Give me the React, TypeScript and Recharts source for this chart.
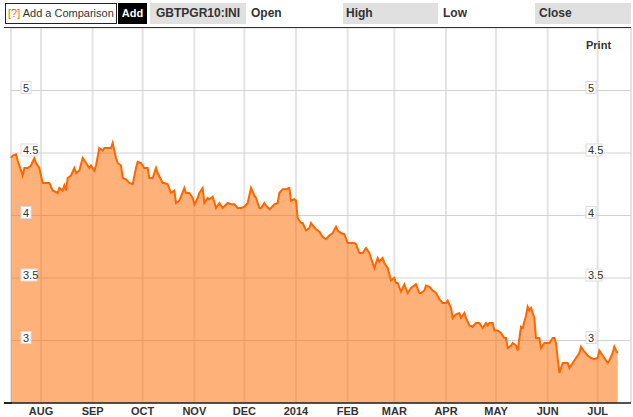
import { Area, AreaChart, CartesianGrid, XAxis, YAxis } from "recharts"

// day offsets counted from 1 Jul 2013
const days = [
    13, 14, 16, 17, 18, 20, 21, 23, 25, 27, 28, 30, 32, 34, 36, 38, 41, 42, 44, 45,
    46, 47, 49, 51, 52, 54, 56, 58, 60, 61, 63, 64, 66, 68, 69, 71, 73, 74, 76, 77,
    79, 80, 82, 84, 86, 88, 89, 91, 93, 95, 96, 98, 100, 101, 104, 105, 107, 109, 111, 112,
    114, 117, 118, 120, 122, 123, 125, 126, 128, 129, 131, 132, 134, 136, 138, 140, 143, 145, 147, 149,
    151, 153, 155, 157, 159, 160, 162, 163, 165, 166, 168, 169, 171, 173, 174, 176, 178, 180, 181, 183,
    184, 185, 187, 188, 190, 192, 193, 194, 196, 198, 200, 202, 204, 206, 208, 209, 211, 213, 215, 217,
    219, 220, 222, 224, 226, 228, 229, 231, 233, 234, 236, 237, 239, 241, 243, 244, 245, 247, 249, 251,
    253, 256, 258, 259, 261, 262, 264, 266, 268, 270, 272, 274, 275, 277, 278, 280, 282, 283, 285, 286,
    288, 290, 292, 294, 296, 298, 299, 300, 302, 303, 305, 307, 309, 310, 311, 313, 314, 316, 317, 319,
    320, 322, 323, 324, 325, 327, 328, 330, 331, 333, 335, 336, 338, 339, 340, 341, 342, 344, 346, 347,
    348, 350, 352, 354, 355, 357, 359, 361, 363, 365, 366, 368, 369, 371, 372, 374, 375, 376, 377,
]

const yields = [
    4.46, 4.48, 4.49, 4.44, 4.4, 4.32, 4.38, 4.38, 4.4, 4.46, 4.42, 4.38, 4.26, 4.26, 4.26, 4.2, 4.18, 4.22, 4.2, 4.24,
    4.2, 4.3, 4.32, 4.38, 4.34, 4.36, 4.46, 4.42, 4.38, 4.4, 4.36, 4.4, 4.54, 4.52, 4.54, 4.54, 4.54, 4.58, 4.46, 4.42,
    4.4, 4.3, 4.29, 4.26, 4.25, 4.38, 4.43, 4.42, 4.38, 4.38, 4.3, 4.3, 4.38, 4.34, 4.26, 4.26, 4.25, 4.18, 4.2, 4.1,
    4.12, 4.22, 4.18, 4.18, 4.14, 4.09, 4.14, 4.18, 4.22, 4.1, 4.14, 4.13, 4.15, 4.06, 4.1, 4.06, 4.1, 4.09, 4.09, 4.06,
    4.06, 4.07, 4.1, 4.22, 4.16, 4.14, 4.06, 4.06, 4.1, 4.08, 4.05, 4.06, 4.09, 4.1, 4.18, 4.21, 4.21, 4.22, 4.12, 4.13,
    4.12, 3.98, 3.94, 3.94, 3.88, 3.9, 3.94, 3.92, 3.89, 3.87, 3.83, 3.81, 3.84, 3.86, 3.91, 3.88, 3.86, 3.85, 3.78, 3.78,
    3.78, 3.77, 3.7, 3.7, 3.74, 3.7, 3.66, 3.58, 3.66, 3.63, 3.66, 3.62, 3.58, 3.48, 3.5, 3.46, 3.46, 3.39, 3.45, 3.38,
    3.42, 3.45, 3.38, 3.38, 3.4, 3.44, 3.43, 3.4, 3.38, 3.33, 3.3, 3.3, 3.32, 3.26, 3.18, 3.21, 3.22, 3.18, 3.22, 3.18,
    3.12, 3.11, 3.14, 3.14, 3.1, 3.14, 3.12, 3.14, 3.14, 3.08, 3.08, 3.06, 3.02, 3.02, 2.94, 2.96, 2.98, 2.96, 2.92, 3.11,
    3.1, 3.2, 3.27, 3.24, 3.26, 3.18, 3.02, 3.02, 2.94, 2.98, 2.98, 2.98, 3.02, 3.02, 2.98, 2.86, 2.74, 2.82, 2.82, 2.82,
    2.78, 2.82, 2.86, 2.9, 2.95, 2.91, 2.88, 2.86, 2.85, 2.86, 2.92, 2.88, 2.86, 2.82, 2.84, 2.9, 2.95, 2.92, 2.9,
]

const monthDays = [31, 62, 92, 123, 153, 184, 215, 243, 274, 304, 335, 365]
const monthLabels = ["AUG", "SEP", "OCT", "NOV", "DEC", "2014", "FEB", "MAR", "APR", "MAY", "JUN", "JUL"]
const yTicks = [3, 3.5, 4, 4.5, 5]

const data = days.map((d, i) => ({ day: d, value: yields[i] }))

const FONT = "'Liberation Sans', Arial, Helvetica, sans-serif"

const renderYTick = (props: any) => {
    const { y, payload } = props
    const label = String(payload.value)
    const w = 7 + label.length * 3
    return (
        <g key={label}>
            <rect x={21} y={y - 9} width={w} height={12} fill="#fff" stroke="#dcdcdc" />
            <text x={23} y={y + 1} fontSize={11} fill="#333" fontFamily={FONT}>{label}</text>
            <rect x={586} y={y - 9} width={w} height={12} fill="#fff" stroke="#dcdcdc" />
            <text x={588} y={y + 1} fontSize={11} fill="#333" fontFamily={FONT}>{label}</text>
        </g>
    )
}

const boxText = {
    position: "absolute" as const,
    top: 3,
    height: 21,
    lineHeight: "21px",
    fontSize: 12,
    fontWeight: "bold" as const,
    color: "#333",
    whiteSpace: "nowrap" as const,
    overflow: "hidden",
    boxSizing: "border-box" as const,
}

const App = () => {
    return (
        <div style={{ position: "absolute", left: 0, top: 0, width: 633, height: 417, fontFamily: FONT, background: "#fff" }}>
            <AreaChart
                width={633}
                height={417}
                data={data}
                margin={{ top: 28, right: 2, bottom: 0, left: 10 }}
            >
                <CartesianGrid horizontal={false} stroke="#e4e4e4" strokeWidth={2} />
                <CartesianGrid vertical={false} stroke="#d2d2d2" strokeWidth={1.2} />
                <XAxis
                    dataKey="day"
                    type="number"
                    domain={[13, 385]}
                    ticks={monthDays}
                    interval={0}
                    tickFormatter={(v: number) => monthLabels[monthDays.indexOf(v)]}
                    tickLine={false}
                    tickSize={0}
                    tickMargin={4}
                    height={14}
                    axisLine={{ stroke: "#222", strokeWidth: 1.5 }}
                    tick={{ fontSize: 11, fontWeight: "bold", fill: "#333", fontFamily: FONT }}
                />
                <YAxis
                    type="number"
                    domain={[2.5, 5.5]}
                    ticks={yTicks}
                    interval={0}
                    width={1}
                    axisLine={false}
                    tickLine={false}
                    tick={renderYTick}
                />
                <Area
                    type="linear"
                    dataKey="value"
                    stroke="#ff6600"
                    strokeWidth={2}
                    fill="#ff6a00"
                    fillOpacity={0.52}
                    isAnimationActive={false}
                    dot={false}
                    activeDot={false}
                />
            </AreaChart>

            <div style={{ position: "absolute", left: 4, top: 402, width: 8, height: 1.5, background: "#222" }} />

            <div style={{ ...boxText, left: 5, width: 112, border: "1px solid #222", background: "#fff", fontWeight: "normal", fontSize: 11, lineHeight: "19px", paddingLeft: 2 }}>
                <span style={{ color: "#ff6600" }}>[?]</span> Add a Comparison
            </div>
            <div style={{ ...boxText, left: 118, width: 29, background: "#000", color: "#fff", fontSize: 11, textAlign: "center" }}>Add</div>
            <div style={{ ...boxText, left: 150, width: 96, background: "#e0e0e0", paddingLeft: 6 }}>GBTPGR10:INI</div>
            <div style={{ ...boxText, left: 251 }}>Open</div>
            <div style={{ ...boxText, left: 343, width: 95, background: "#e0e0e0", paddingLeft: 3 }}>High</div>
            <div style={{ ...boxText, left: 443 }}>Low</div>
            <div style={{ ...boxText, left: 535, width: 96, background: "#e0e0e0", paddingLeft: 4 }}>Close</div>
            <div style={{ position: "absolute", left: 4, top: 27, width: 627, height: 1, background: "#333" }} />
            <div style={{ position: "absolute", left: 586, top: 39, fontSize: 11, fontWeight: "bold", color: "#333" }}>Print</div>
        </div>
    )
}

export default App
